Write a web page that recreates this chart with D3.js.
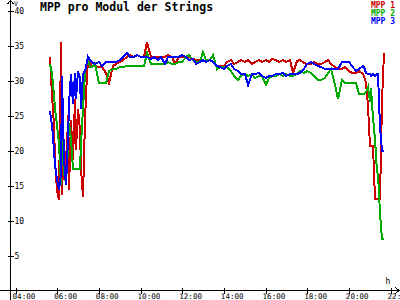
<!DOCTYPE html>
<meta charset="utf-8">

<!-- Load d3.js -->
<script src="https://d3js.org/d3.v7.min.js"></script>

<div id="chart"></div>

<style>
    body {
      margin: 0;
      background: #fff;
    }
    svg {
      display: block;
      font-family: 'DejaVu Sans Mono', monospace;
    }
    .series {
      fill: none;
      stroke-width: 2;
      shape-rendering: crispEdges;
    }
    .axisline {
      stroke: #000;
      fill: none;
      stroke-width: 1;
      shape-rendering: crispEdges;
    }
    text.title {
      font-size: 11.5px;
      font-weight: bold;
    }
    text.legend {
      font-size: 8px;
      font-weight: bold;
    }
</style>

<script>

    // time of day for every sample
    var times = [
      "05:40","05:45","05:50","05:55","06:00","06:05","06:10","06:15","06:20","06:25",
      "06:30","06:35","06:40","06:45","06:50","06:55","07:00","07:05","07:10","07:15",
      "07:20","07:25","07:30","07:35","07:40",
      "07:50","08:00","08:10","08:20","08:30","08:40","08:50","09:00","09:10","09:20",
      "09:30","09:40","09:50","10:00","10:10","10:20","10:30","10:40","10:50","11:00",
      "11:10","11:20","11:30","11:40","11:50","12:00","12:10","12:20","12:30","12:40",
      "12:50",
      "13:00","13:10","13:20","13:30","13:40","13:50","14:00","14:10","14:20","14:30",
      "14:40","14:50","15:00","15:10","15:20","15:30","15:40","15:50","16:00","16:10",
      "16:20","16:30","16:40","16:50","17:00","17:10","17:20","17:30","17:40","17:50",
      "18:00","18:10","18:20","18:30","18:40","18:50","19:00","19:10","19:20","19:30",
      "19:40","19:50","20:00","20:10","20:20","20:30","20:40",
      "20:45","20:50","20:55","21:00","21:05","21:10","21:15","21:20","21:25","21:30",
      "21:35","21:40"
    ];

    // MPP voltage per module (V)
    var mpp1 = [
      33.3,28.0,23.7,18.7,14.4,13.0,35.5,13.7,21.6,15.1,
      25.1,14.4,24.4,18.7,27.3,20.1,25.9,23.0,17.3,13.4,
      24.4,30.9,32.7,32.6,32.0,
      32.0,31.9,31.9,31.1,29.7,32.0,32.3,32.6,33.0,33.3,
      33.6,33.3,33.6,33.3,33.3,35.5,33.3,33.3,33.4,33.3,
      33.3,33.6,33.3,32.4,33.3,33.3,33.4,33.3,33.1,33.0,
      33.0,
      32.9,32.7,33.0,32.7,32.1,32.1,32.0,32.6,32.9,32.4,
      32.6,32.9,32.6,33.0,32.4,32.7,32.9,32.6,33.0,32.7,
      33.1,32.9,32.6,33.0,32.7,32.9,31.1,32.8,33.0,32.5,
      32.4,32.3,32.7,32.3,32.4,32.7,33.0,32.3,31.9,31.6,
      31.6,31.9,31.3,31.1,31.1,31.3,30.9,
      30.6,29.7,26.3,20.6,20.6,20.6,13.1,13.1,13.1,13.1,
      27.0,34.0
    ];

    var mpp2 = [
      32.3,30.9,28.0,25.9,23.7,20.9,15.1,21.6,16.6,15.4,
      20.1,24.0,21.6,17.3,17.3,17.3,17.3,17.3,20.9,25.9,
      31.1,32.7,33.0,31.9,31.9,
      32.3,29.7,29.7,29.7,31.3,31.7,31.7,31.9,31.9,32.0,
      32.1,32.1,32.1,32.1,32.1,34.0,32.3,32.3,32.3,32.4,
      32.4,32.6,32.4,32.4,32.6,32.7,33.3,33.6,33.0,32.7,
      32.7,
      34.1,33.0,33.0,33.6,31.6,31.9,31.9,31.9,31.3,30.7,
      30.1,30.7,30.9,30.6,30.9,30.4,30.7,30.6,29.4,30.4,
      30.7,30.6,30.9,30.6,30.9,30.7,30.7,30.9,31.3,31.1,
      31.3,31.1,30.6,30.1,30.1,30.4,31.1,31.6,29.4,27.3,
      30.1,29.7,29.6,29.6,29.7,28.1,28.1,
      28.1,28.3,29.1,26.9,29.0,24.7,21.6,16.9,16.6,11.1,
      7.3,7.3
    ];

    var mpp3 = [
      25.6,23.7,20.1,18.0,15.9,14.4,16.6,30.6,18.7,15.1,
      21.6,26.6,30.9,26.6,31.1,27.3,31.3,30.4,25.9,30.9,
      31.3,32.7,33.3,33.0,32.7,
      32.3,32.6,32.1,32.7,32.6,32.7,32.6,32.9,33.3,33.9,
      33.4,33.3,33.6,33.4,33.4,33.4,33.1,33.3,33.0,33.3,
      32.4,33.3,33.4,33.4,33.3,33.6,33.3,33.0,33.1,32.4,
      32.7,
      32.9,32.7,32.9,32.6,32.1,31.9,31.6,32.1,32.4,31.6,
      31.3,31.0,30.9,29.3,31.0,30.9,31.1,30.7,30.4,30.6,
      30.7,30.9,31.0,31.1,30.7,30.9,30.9,30.9,31.1,31.6,
      32.3,32.6,32.4,32.1,31.9,31.6,31.7,31.6,31.6,31.6,
      32.6,32.7,32.6,32.1,31.3,31.6,32.0,
      31.9,31.1,31.0,30.9,30.7,30.9,30.7,30.9,31.0,23.3,
      19.9,19.9
    ];

    var seriesNames = ["MPP 1", "MPP 2", "MPP 3"];
    var seriesColors = ["#cc0000", "#00aa00", "#0000ff"];
    var yTicks = [5, 10, 15, 20, 25, 30, 35, 40];
    var xTicks = ["04:00","06:00","08:00","10:00","12:00","14:00","16:00","18:00","20:00","22:00"];

    var width = 400, height = 300;

    function toMin(t) {
      var p = t.split(":");
      return +p[0] * 60 + +p[1];
    }

    var svg = d3.select("#chart")
      .append("svg")
        .attr("width", width)
        .attr("height", height);

    var x = d3.scaleLinear()
      .domain([toMin("04:00"), toMin("22:00")])
      .range([15.5, 390.5]);

    var y = d3.scaleLinear()
      .domain([0, 40])
      .range([290.5, 10.5]);

    // lines first, axes on top like the original
    var line = d3.line()
      .x(function(d) { return Math.round(x(d.t)); })
      .y(function(d) { return Math.round(y(d.v)); });

    [mpp1, mpp2, mpp3].forEach(function(vals, i) {
      var data = times.map(function(t, j) { return {t: toMin(t), v: vals[j]}; });
      svg.append("path")
        .datum(data)
        .attr("class", "series")
        .attr("stroke", seriesColors[i])
        .attr("d", line);
    });

    // X axis
    var xAxis = svg.append("g")
      .attr("transform", "translate(0," + y(0) + ")")
      .call(d3.axisBottom(x)
        .tickValues(xTicks.map(toMin))
        .tickFormat(function(d) { return d3.format("02")(Math.floor(d / 60)) + ":00"; })
        .tickSize(3));
    xAxis.select(".domain").remove();
    xAxis.selectAll(".tick line").attr("y1", -3).attr("y2", 3)
      .attr("stroke", "#000").style("shape-rendering", "crispEdges");
    xAxis.selectAll(".tick text")
      .attr("y", 8.5).attr("dy", null)
      .attr("x", -3.5)
      .style("text-anchor", "start")
      .attr("fill", "#000")
      .style("font-family", "'DejaVu Sans Mono', monospace")
      .style("font-size", "7.6px");

    // Y axis
    var yAxis = svg.append("g")
      .attr("transform", "translate(10.5,0)")
      .call(d3.axisRight(y).tickValues(yTicks).tickSize(3));
    yAxis.select(".domain").remove();
    yAxis.selectAll(".tick line").attr("x1", -3).attr("x2", 3)
      .attr("stroke", "#000").style("shape-rendering", "crispEdges");
    yAxis.selectAll(".tick text")
      .attr("x", 4)
      .attr("fill", "#000")
      .style("font-family", "'DejaVu Sans Mono', monospace")
      .style("font-size", "8px");

    // axis lines with arrows
    svg.append("line").attr("class", "axisline")
      .attr("x1", 10.5).attr("y1", 0).attr("x2", 10.5).attr("y2", height);
    svg.append("polyline").attr("class", "axisline")
      .attr("points", "7.5,4 10.5,0.5 13.5,4");
    svg.append("line").attr("class", "axisline")
      .attr("x1", 0).attr("y1", y(0)).attr("x2", 399).attr("y2", y(0));
    svg.append("polyline").attr("class", "axisline")
      .attr("points", "395.5," + (y(0) - 3) + " 399," + y(0) + " 395.5," + (y(0) + 3));

    svg.append("text")
      .attr("x", 14).attr("y", 5.5)
      .style("font-size", "6.5px")
      .text("V");

    svg.append("text")
      .attr("x", 385.5).attr("y", 284)
      .style("font-size", "8px")
      .text("h");

    svg.append("text")
      .attr("class", "title")
      .attr("x", 40)
      .attr("y", 11)
      .text("MPP pro Modul der Strings");

    // legend
    svg.selectAll(".legend")
      .data(seriesNames)
      .enter()
      .append("text")
        .attr("class", "legend")
        .attr("x", 395)
        .attr("y", function(d, i) { return 8 + i * 7.8; })
        .style("text-anchor", "end")
        .attr("fill", function(d, i) { return seriesColors[i]; })
        .text(function(d) { return d; });

</script>
